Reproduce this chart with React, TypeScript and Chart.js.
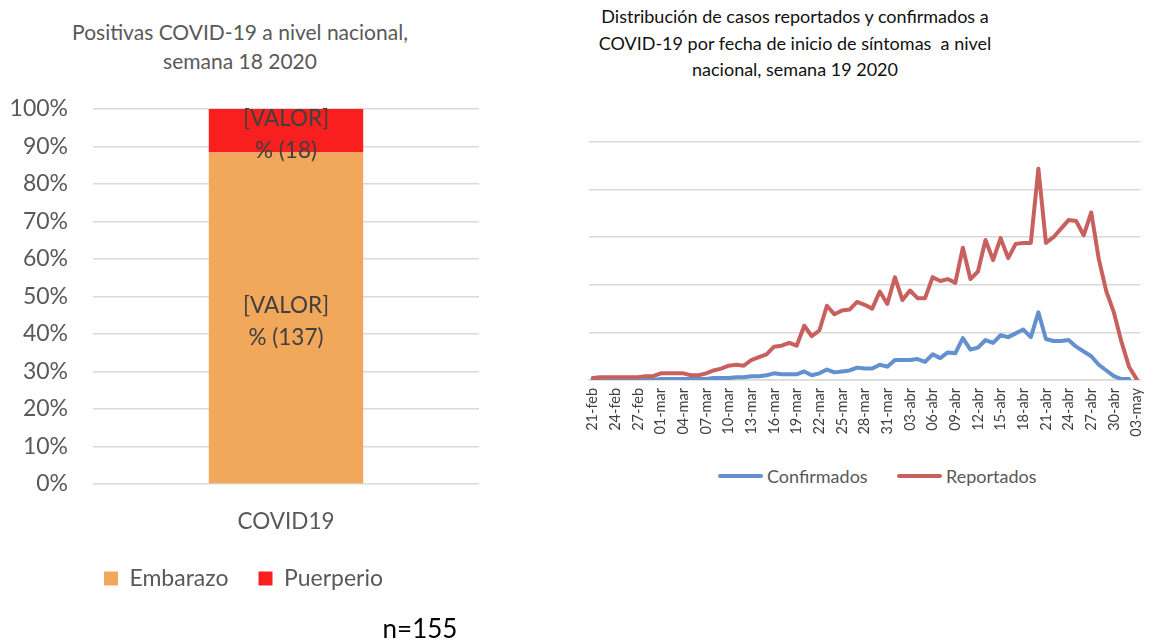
import React, { useEffect, useRef } from "react";
import { Chart, registerables } from "chart.js";

Chart.register(...registerables);

const FONT = "Lato, 'Noto Sans', sans-serif";

// ---------- Left chart data ----------
const barCategories = ["COVID19"];
const embarazoCounts = [137];
const puerperioCounts = [18];
const barSeriesNames = ["Embarazo", "Puerperio"];
const barColors = ["#F2A85B", "#F81F1E"];

// ---------- Right chart data ----------
const dateLabels = [
  "21-feb", "22-feb", "23-feb", "24-feb", "25-feb", "26-feb", "27-feb", "28-feb", "29-feb",
  "01-mar", "02-mar", "03-mar", "04-mar", "05-mar", "06-mar", "07-mar", "08-mar", "09-mar", "10-mar",
  "11-mar", "12-mar", "13-mar", "14-mar", "15-mar", "16-mar", "17-mar", "18-mar", "19-mar", "20-mar",
  "21-mar", "22-mar", "23-mar", "24-mar", "25-mar", "26-mar", "27-mar", "28-mar", "29-mar", "30-mar", "31-mar",
  "01-abr", "02-abr", "03-abr", "04-abr", "05-abr", "06-abr", "07-abr", "08-abr", "09-abr", "10-abr",
  "11-abr", "12-abr", "13-abr", "14-abr", "15-abr", "16-abr", "17-abr", "18-abr", "19-abr", "20-abr",
  "21-abr", "22-abr", "23-abr", "24-abr", "25-abr", "26-abr", "27-abr", "28-abr", "29-abr", "30-abr",
  "01-may", "02-may", "03-may",
];

const confirmados = [
  0, 0, 0, 0, 0, 0, 0, 0, 0,
  1, 1, 1, 1, 1, 1, 1, 2, 2, 2,
  3, 3, 4, 4, 5, 7, 6, 6, 6, 9,
  5, 7, 11, 8, 9, 10, 13, 12, 12, 16, 14,
  21, 21, 21, 22, 19, 27, 23, 29, 28, 44,
  32, 34, 42, 39, 47, 45, 49, 53, 45, 71,
  43, 41, 41, 42, 35, 30, 25, 16, 10, 4,
  1, 1, null,
];

const reportados = [
  2, 3, 3, 3, 3, 3, 3, 4, 4,
  7, 7, 7, 7, 5, 5, 7, 10, 12, 15,
  16, 15, 21, 24, 27, 35, 36, 39, 36, 57,
  46, 52, 78, 69, 73, 74, 82, 79, 75, 93, 80,
  108, 84, 94, 86, 86, 108, 104, 106, 102, 139,
  106, 114, 147, 126, 149, 128, 143, 144, 144, 222,
  144, 150, 159, 168, 167, 152, 176, 127, 93, 71,
  40, 14, 1,
];

const lineSeriesNames = ["Confirmados", "Reportados"];
const lineColors = ["#6390CF", "#C8605D"];

const GRID = "#D9D9D9";
const TEXT = "#595959";

const barLabelPlugin = {
  id: "barLabels",
  afterDatasetsDraw(chart: any) {
    const ctx = chart.ctx;
    const counts = [embarazoCounts, puerperioCounts];
    ctx.save();
    ctx.font = `22.5px ${FONT}`;
    ctx.fillStyle = "#404040";
    ctx.textAlign = "center";
    ctx.textBaseline = "middle";
    chart.data.datasets.forEach((ds: any, di: number) => {
      const meta = chart.getDatasetMeta(di);
      meta.data.forEach((el: any, i: number) => {
        const cy = (el.y + el.base) / 2 + 4;
        ctx.fillText("[VALOR]", el.x, cy - 16);
        ctx.fillText(`% (${counts[di][i]})`, el.x, cy + 16);
      });
    });
    ctx.restore();
  },
};

function LeftChart() {
  const ref = useRef<HTMLCanvasElement | null>(null);
  useEffect(() => {
    if (!ref.current) return;
    const total = embarazoCounts.map((v, i) => v + puerperioCounts[i]);
    const chart = new Chart(ref.current, {
      type: "bar",
      data: {
        labels: barCategories,
        datasets: [
          {
            label: barSeriesNames[0],
            data: embarazoCounts.map((v, i) => (v / total[i]) * 100),
            backgroundColor: barColors[0],
            barPercentage: 0.4,
            categoryPercentage: 1,
          },
          {
            label: barSeriesNames[1],
            data: puerperioCounts.map((v, i) => (v / total[i]) * 100),
            backgroundColor: barColors[1],
            barPercentage: 0.4,
            categoryPercentage: 1,
          },
        ],
      },
      options: {
        animation: false,
        responsive: false,
        maintainAspectRatio: false,
        layout: { padding: { top: 109, left: 8, right: 31, bottom: 20 } },
        plugins: {
          legend: {
            position: "bottom",
            labels: {
              font: { family: FONT, size: 23 },
              color: TEXT,
              boxWidth: 14,
              boxHeight: 14,
              padding: 30,
            },
          },
          tooltip: { enabled: false },
          title: { display: false },
        },
        scales: {
          x: {
            stacked: true,
            grid: { display: false, drawTicks: false },
            border: { display: false },
            ticks: { font: { family: FONT, size: 22.5 }, color: TEXT, padding: 24 },
            afterFit: (s: any) => {
              s.height = 53;
            },
          },
          y: {
            stacked: true,
            min: 0,
            max: 100,
            ticks: {
              stepSize: 10,
              font: { family: FONT, size: 23 },
              color: TEXT,
              padding: 25,
              callback: (v: any) => `${v}%`,
            },
            grid: { color: GRID, lineWidth: 1.5, drawTicks: false },
            border: { display: false },
            afterFit: (s: any) => {
              s.width = 85;
            },
          },
        },
      },
      plugins: [barLabelPlugin],
    });
    return () => chart.destroy();
  }, []);
  return (
    <canvas
      ref={ref}
      width={510}
      height={620}
      style={{ position: "absolute", left: 0, top: 0, width: 510, height: 620 }}
    />
  );
}

function RightChart() {
  const ref = useRef<HTMLCanvasElement | null>(null);
  useEffect(() => {
    if (!ref.current) return;
    const chart = new Chart(ref.current, {
      type: "line",
      data: {
        labels: dateLabels,
        datasets: [
          {
            label: lineSeriesNames[0],
            data: confirmados,
            borderColor: lineColors[0],
            backgroundColor: lineColors[0],
            borderWidth: 4,
            pointRadius: 0,
            tension: 0,
            borderJoinStyle: "round",
            borderCapStyle: "round",
            order: 1,
          },
          {
            label: lineSeriesNames[1],
            data: reportados,
            borderColor: lineColors[1],
            backgroundColor: lineColors[1],
            borderWidth: 4,
            pointRadius: 0,
            tension: 0,
            borderJoinStyle: "round",
            borderCapStyle: "round",
            order: 0,
          },
        ],
      },
      options: {
        animation: false,
        responsive: false,
        maintainAspectRatio: false,
        layout: { padding: { top: 142, left: 29, right: 5, bottom: 0 } },
        plugins: {
          legend: { display: false },
          tooltip: { enabled: false },
          title: { display: false },
        },
        scales: {
          x: {
            offset: true,
            grid: { display: false, drawTicks: false },
            border: { display: true, color: GRID, width: 1.5 },
            ticks: {
              autoSkip: false,
              maxRotation: 90,
              minRotation: 90,
              padding: 8,
              font: { family: FONT, size: 14.5 },
              color: "#404040",
              callback: (_v: any, i: number) => (i % 3 === 0 ? dateLabels[i] : ""),
            },
            afterFit: (s: any) => {
              s.height = 70;
            },
          },
          y: {
            min: 0,
            max: 250,
            ticks: { display: false, stepSize: 50 },
            grid: { color: GRID, lineWidth: 1.5, drawTicks: false },
            border: { display: false },
            afterFit: (s: any) => {
              s.width = 0;
            },
          },
        },
      },
    });
    return () => chart.destroy();
  }, []);
  return (
    <canvas
      ref={ref}
      width={602}
      height={450}
      style={{ position: "absolute", left: 560, top: 0, width: 602, height: 450 }}
    />
  );
}

export default function App() {
  return (
    <div
      style={{
        position: "fixed",
        left: 0,
        top: 0,
        width: 1162,
        height: 642,
        overflow: "hidden",
        background: "#fff",
        fontFamily: FONT,
      }}
    >
      <div
        style={{
          position: "absolute",
          left: 0,
          top: 17,
          width: 480,
          textAlign: "center",
          fontSize: 21,
          lineHeight: "29px",
          color: TEXT,
          whiteSpace: "nowrap",
        }}
      >
        Positivas COVID-19 a nivel nacional,
        <br />
        semana 18 2020
      </div>
      <div
        style={{
          position: "absolute",
          left: 495,
          top: 3,
          width: 600,
          textAlign: "center",
          fontSize: 18,
          lineHeight: "26.5px",
          color: "#111",
          whiteSpace: "pre",
        }}
      >
        {"Distribución de casos reportados y confirmados a\nCOVID-19 por fecha de inicio de síntomas  a nivel\nnacional, semana 19 2020"}
      </div>
      <LeftChart />
      <RightChart />
      {lineSeriesNames.map((name, i) => (
        <div
          key={name}
          style={{
            position: "absolute",
            left: i === 0 ? 718 : 897,
            top: 464,
            height: 24,
            display: "flex",
            alignItems: "center",
            whiteSpace: "nowrap",
            fontSize: 18,
            color: TEXT,
          }}
        >
          <span
            style={{
              display: "inline-block",
              width: 45,
              height: 4,
              background: lineColors[i],
              borderRadius: 2,
              marginRight: 4,
            }}
          />
          {name}
        </div>
      ))}
      <div
        style={{
          position: "absolute",
          left: 370,
          top: 612,
          width: 100,
          textAlign: "center",
          fontSize: 26,
          lineHeight: "32px",
          color: "#000",
        }}
      >
        n=155
      </div>
    </div>
  );
}
